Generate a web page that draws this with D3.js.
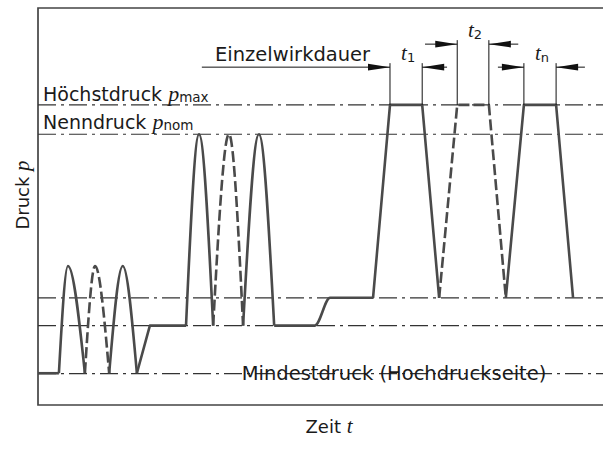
<!DOCTYPE html>
<html>
<head>
<meta charset="utf-8">
<script src="https://cdn.jsdelivr.net/npm/d3@7"></script>
<style>
  html, body { margin: 0; padding: 0; background: #fff; }
  svg { display: block; }
  .lbl { font-family: "DejaVu Sans", sans-serif; fill: #1a1a1a; }
  .var { font-family: "Liberation Serif", serif; font-style: italic; fill: #1a1a1a; }
</style>
</head>
<body>
<div id="chart"></div>
<script>
const W = 603, H = 450;

// ── Data (t: 0..100, p: 0..100, arbitrary units) ──
// dash-dot reference levels: Mindestdruck, two intermediate levels, p_nom, p_max
const refLevels = [7.9, 20, 27, 68.2, 75.6];

// solid pressure trace, one entry per segment
const solidLinear = [
  [[0, 8], [3.7, 8]],
  [[17.5, 8], [19.8, 20], [26.2, 20]],
  [[59.3, 27], [62.3, 75.6], [68.0, 75.6], [71.0, 27]],
  [[82.8, 27], [86.0, 75.6], [91.7, 75.6], [94.7, 27]]
];
const solidHumps = [
  [[3.7, 8], [5.3, 35], [8.3, 8]],
  [[12.6, 8], [15.0, 35], [17.5, 8]],
  [[26.2, 20], [28.5, 68.2], [31.0, 20]],
  [[36.3, 20], [39.1, 68.2], [41.8, 20]],
  [[41.8, 20], [49.0, 20], [51.7, 27], [59.3, 27]]
];
// dashed alternatives
const dashedHumps = [
  [[8.3, 8], [10.1, 35], [12.6, 8]],
  [[31.0, 20], [33.8, 68.2], [36.3, 20]]
];
const dashedLinear = [
  [[71.0, 27], [74.2, 75.6], [79.8, 75.6], [82.8, 27]]
];

// single action durations t1, t2, tn
const durations   = [[62.3, 68.0], [74.2, 79.8], [86.0, 91.7]];
const durLabels   = ["1", "2", "n"];
const durArrowP   = [85.1, 90.9, 85.1];   // height of dimension line
const durOuter    = [[29.0, 72.4], [68.5, 85.0], [81.4, 96.8]];

// ── Scales ──
const x = d3.scaleLinear().domain([0, 100]).range([38, 603]);
const y = d3.scaleLinear().domain([0, 100]).range([405, 8]);

const svg = d3.select("#chart").append("svg")
  .attr("width", W).attr("height", H);

// ── Frame ──
svg.append("path")
  .attr("d", `M${x(100) + 5},${y(100)} H${x(0)} V${y(0)} H${x(100) + 5}`)
  .attr("fill", "none")
  .attr("stroke", "#444")
  .attr("stroke-width", 1.7);

// ── Reference lines ──
svg.selectAll(".ref").data(refLevels).enter().append("line")
  .attr("x1", x(0)).attr("x2", x(100))
  .attr("y1", d => y(d)).attr("y2", d => y(d))
  .attr("stroke", "#333")
  .attr("stroke-width", 1.2)
  .attr("stroke-dasharray", "18 5 3 5");

// ── Pressure trace ──
const lin  = d3.line().x(d => x(d[0])).y(d => y(d[1]));
const hump = d3.line().x(d => x(d[0])).y(d => y(d[1])).curve(d3.curveMonotoneX);

function trace(data, gen, dashed) {
  svg.append("g").selectAll("path").data(data).enter().append("path")
    .attr("d", gen)
    .attr("fill", "none")
    .attr("stroke", "#4a4a4a")
    .attr("stroke-width", 2.6)
    .attr("stroke-linejoin", "round")
    .attr("stroke-dasharray", dashed ? "11 4" : null);
}
trace(solidLinear, lin, false);
trace(solidHumps, hump, false);
trace(dashedLinear, lin, true);
trace(dashedHumps, hump, true);

// ── Duration dimensions ──
function arrow(xTip, yy, dir) {
  const L = 22, hw = 3.3;
  svg.append("path")
    .attr("d", `M${xTip},${yy} L${xTip - dir * L},${yy - hw} L${xTip - dir * L},${yy + hw} Z`)
    .attr("fill", "#111");
}

durations.forEach((d, i) => {
  const yy = y(durArrowP[i]);
  const [a, b] = [x(d[0]), x(d[1])];
  [a, b].forEach(px => {
    svg.append("line")
      .attr("x1", px).attr("x2", px)
      .attr("y1", yy - 4).attr("y2", y(refLevels[4]))
      .attr("stroke", "#111").attr("stroke-width", 1);
  });
  svg.append("line")
    .attr("x1", x(durOuter[i][0])).attr("x2", a)
    .attr("y1", yy).attr("y2", yy)
    .attr("stroke", "#111").attr("stroke-width", 1);
  svg.append("line")
    .attr("x1", b).attr("x2", x(durOuter[i][1]))
    .attr("y1", yy).attr("y2", yy)
    .attr("stroke", "#111").attr("stroke-width", 1);
  arrow(a, yy, 1);
  arrow(b, yy, -1);

  const t = svg.append("text")
    .attr("x", (a + b) / 2 + 2).attr("y", yy - 7)
    .attr("text-anchor", "middle");
  t.append("tspan").attr("class", "var").style("font-size", "21px").text("t");
  t.append("tspan").attr("class", "lbl").style("font-size", "13px").attr("dy", 2).text(durLabels[i]);
});

svg.append("text").attr("class", "lbl")
  .attr("x", 215).attr("y", y(durArrowP[0]) - 6)
  .style("font-size", "19.5px")
  .text("Einzelwirkdauer");

// ── Level labels ──
function levelLabel(txt, sub, yy) {
  const t = svg.append("text").attr("x", 43).attr("y", yy);
  t.append("tspan").attr("class", "lbl").style("font-size", "19px").text(txt + " ");
  t.append("tspan").attr("class", "var").style("font-size", "22px").text("p");
  t.append("tspan").attr("class", "lbl").style("font-size", "13.5px").attr("dy", 1).text(sub);
}
levelLabel("Höchstdruck", "max", y(refLevels[4]) - 4);
levelLabel("Nenndruck", "nom", y(refLevels[3]) - 5);

svg.append("text").attr("class", "lbl")
  .attr("x", 394).attr("y", y(refLevels[0]) + 6)
  .attr("text-anchor", "middle")
  .style("font-size", "19.5px")
  .text("Mindestdruck (Hochdruckseite)");

// ── Axis titles ──
const yt = svg.append("text")
  .attr("transform", "translate(29,195) rotate(-90)")
  .attr("text-anchor", "middle");
yt.append("tspan").attr("class", "lbl").style("font-size", "18px").text("Druck ");
yt.append("tspan").attr("class", "var").style("font-size", "21px").text("p");

const xt = svg.append("text")
  .attr("x", 329).attr("y", 433)
  .attr("text-anchor", "middle");
xt.append("tspan").attr("class", "lbl").style("font-size", "18px").text("Zeit ");
xt.append("tspan").attr("class", "var").style("font-size", "21px").text("t");
</script>
</body>
</html>
